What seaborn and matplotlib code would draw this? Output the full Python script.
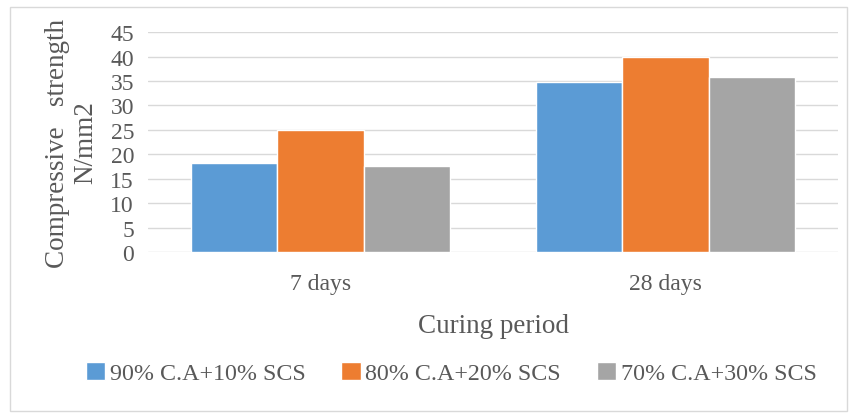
import pandas as pd
import matplotlib.pyplot as plt
import seaborn as sns
from matplotlib.patches import Rectangle

periods = ["7 days", "28 days"]
mixes = ["90% C.A+10% SCS", "80% C.A+20% SCS", "70% C.A+30% SCS"]
mix_90 = [18.2, 34.8]
mix_80 = [25.0, 40.0]
mix_70 = [17.5, 35.8]
colores = ["#5b9bd5", "#ed7d31", "#a5a5a5"]

df = pd.DataFrame({
    "periodo": periods * 3,
    "mezcla": [mixes[0]] * 2 + [mixes[1]] * 2 + [mixes[2]] * 2,
    "valor": mix_90 + mix_80 + mix_70,
})

sns.set_style("white")
plt.rcParams["font.family"] = ["Liberation Serif", "DejaVu Serif"]
texto = "#595959"

fig = plt.figure(figsize=(8.5, 4.14), dpi=100)
ax = fig.add_axes([0.174, 0.389, 0.812, 0.531])
sns.barplot(data=df, x="periodo", y="valor", hue="mezcla", order=periods,
            hue_order=mixes, palette=colores, width=0.75, gap=0,
            saturation=1, ax=ax, zorder=3)

ax.set_ylim(0, 45)
ax.set_yticks(range(0, 50, 5))
ax.set_xlim(-0.5, 1.5)
ax.yaxis.grid(True, color="#d9d9d9", linewidth=1, zorder=0)
for s in ax.spines.values():
    s.set_visible(False)
ax.tick_params(axis="both", length=0, labelsize=17, labelcolor=texto)
ax.tick_params(axis="x", pad=15)
ax.tick_params(axis="y", pad=10)
ax.set_xlabel("Curing period", fontsize=19.5, color=texto, labelpad=14)
ax.set_ylabel("Compressive   strength\nN/mm2", fontsize=19.5, color=texto,
              linespacing=1.15, labelpad=9)

ax.legend(loc="center", bbox_to_anchor=(0.531, 0.097), bbox_transform=fig.transFigure,
          ncol=3, frameon=False, fontsize=17.3, labelcolor=texto, handlelength=0.8,
          handleheight=0.8, handletextpad=0.2, columnspacing=1.5, borderpad=0)

fig.patches.append(Rectangle((0.012, 0.005), 0.985, 0.975, transform=fig.transFigure,
                             fill=False, edgecolor="#d9d9d9", linewidth=1))

plt.savefig("out.png", dpi=100)
